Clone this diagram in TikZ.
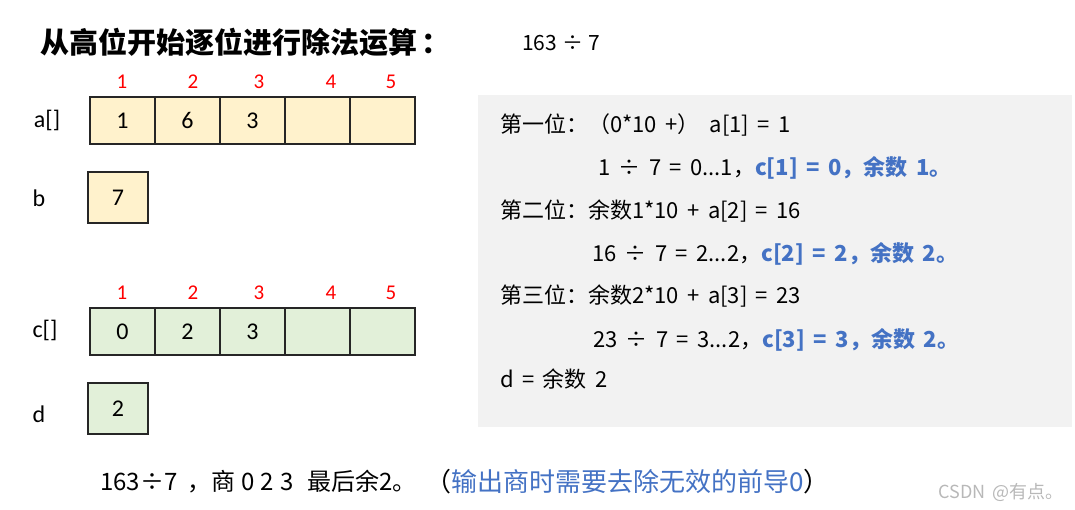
\documentclass[tikz,border=0pt]{standalone}
\usepackage{fontspec}
\setmainfont{Carlito}
\newfontfamily\cjk[WordSpace=1.7]{Noto Sans CJK SC}
\definecolor{boxyellow}{HTML}{FFF2CC}
\definecolor{boxgreen}{HTML}{E2F0D9}
\definecolor{panelgray}{HTML}{F2F2F2}
\definecolor{hiblue}{HTML}{4472C4}

\begin{document}
\begin{tikzpicture}[x=1pt,y=-1pt,
   cell/.style={draw=black!85,line width=1.2pt,inner sep=0pt,minimum width=65pt,minimum height=47pt,font=\fontsize{24}{26}\selectfont},
   single/.style={cell,minimum width=60pt,minimum height=51pt},
   idx/.style={text=red,font=\fontsize{21}{23}\selectfont},
   arrname/.style={font=\fontsize{24}{26}\selectfont},
   calc line/.style={anchor=west,inner sep=0pt,font=\cjk\fontsize{22}{24}\selectfont}]
   \useasboundingbox (0,0) rectangle (1075,510);
   \node[anchor=west,inner sep=0pt,font=\cjk\bfseries\fontsize{29}{31}\selectfont] (title) at (40,42) {从高位开始逐位进行除法运算\hspace{4pt}：};
   \node[anchor=west,inner sep=0pt,font=\cjk\fontsize{21}{24}\selectfont] (expr) at (522,43) {163\hspace{5pt}÷\hspace{5pt}7};
   \foreach \x/\i in {122/1,193/2,259/3,331/4,391/5}{
     \node[idx] (ia\i) at (\x,82) {\i};
     \node[idx] (ic\i) at (\x,293) {\i};
   }
   \foreach \v [count=\i] in {1,6,3,{},{}}
     \node[cell,fill=boxyellow] (a\i) at (57.5+65*\i,120.5) {\v};
   \foreach \v [count=\i] in {0,2,3,{},{}}
     \node[cell,fill=boxgreen] (c\i) at (57.5+65*\i,331.5) {\v};
   \node[single,fill=boxyellow] (b) at (118,197.5) {7};
   \node[single,fill=boxgreen] (d) at (118,408.5) {2};
   \node[arrname] (la) at (47,120) {a[]};
   \node[arrname] (lb) at (39,198) {b};
   \node[arrname] (lc) at (45,330) {c[]};
   \node[arrname] (ld) at (39,414) {d};
   \node[fill=panelgray,inner sep=0pt,minimum width=594pt,minimum height=332pt,anchor=north west] (panel) at (478,95) {};
   \node[calc line] (s1) at (500,125) {第一位：（0*10 +）\hspace{10pt}a[1] = 1};
   \node[calc line] (s2) at (598,168) {1 ÷ 7 = 0...1，\textcolor{hiblue}{\bfseries c[1] = 0，余数 1。}};
   \node[calc line] (s3) at (500,211) {第二位：余数1*10 + a[2] = 16};
   \node[calc line] (s4) at (592,254) {16 ÷ 7 = 2...2，\textcolor{hiblue}{\bfseries c[2] = 2，余数 2。}};
   \node[calc line] (s5) at (500,296) {第三位：余数2*10 + a[3] = 23};
   \node[calc line] (s6) at (593,340) {23 ÷ 7 = 3...2，\textcolor{hiblue}{\bfseries c[3] = 3，余数 2。}};
   \node[calc line] (s7) at (500,379) {d = 余数 2};
   \node[anchor=west,inner sep=0pt,font=\cjk\fontsize{24}{26}\selectfont] (summary) at (100,482) {163÷7\hspace{10pt}，商\hspace{6pt}0\hspace{6pt}2\hspace{6pt}3\hspace{14pt}最后余2。};
   \node[anchor=west,inner sep=0pt,font=\cjk\fontsize{26}{28}\selectfont] (note) at (425,482) {（\textcolor{hiblue}{输出商时需要去除无效的前导0}）};
   \node[anchor=east,inner sep=0pt,text=black!28,font=\cjk\fontsize{18}{20}\selectfont] (mark) at (1064,492) {CSDN @有点。};
\end{tikzpicture}
\end{document}
